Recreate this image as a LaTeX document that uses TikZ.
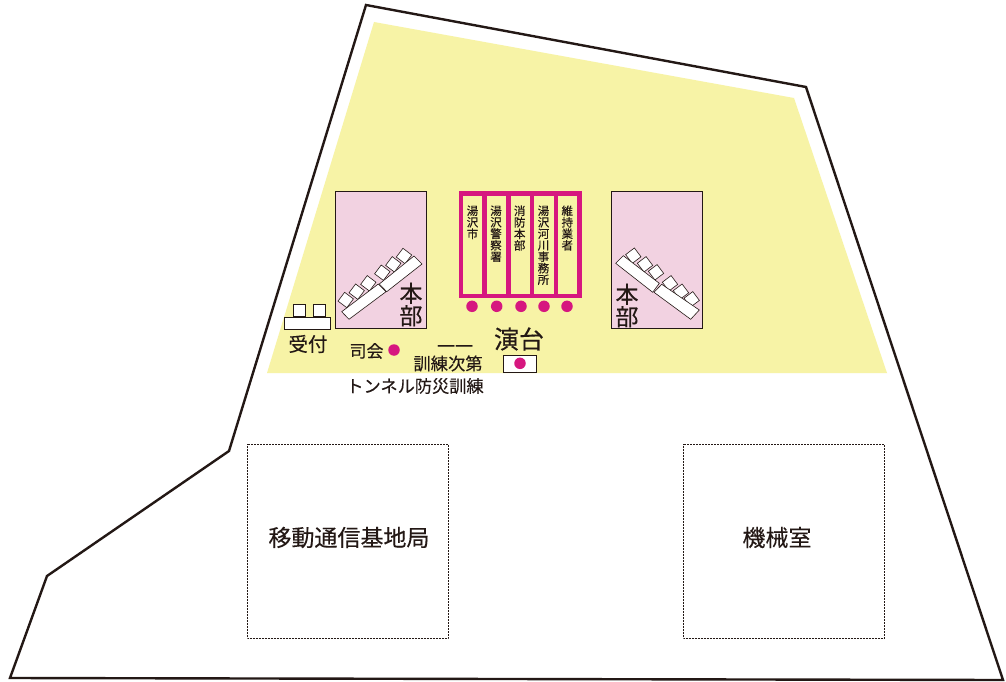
\documentclass[tikz,border=0pt]{standalone}
\usepackage{fontspec}
\setmainfont[FakeBold=0.25]{Noto Sans CJK JP}
\definecolor{yel}{HTML}{F7F3A6}
\definecolor{pnk}{HTML}{F2D2E1}
\definecolor{mag}{HTML}{D6177F}
\definecolor{ink}{HTML}{231815}
\newcommand{\fs}[1]{\fontsize{#1}{#1}\selectfont}
\tikzset{
  wall/.style={draw=ink,line width=2.4pt,line join=miter},
  zone/.style={draw=ink,fill=pnk,line width=0.8pt},
  furn/.style={draw=ink,fill=white,line width=0.6pt},
  seat/.style={furn,minimum size=11pt,inner sep=0,outer sep=0},
  room/.style={draw=ink,densely dotted,line width=0.5pt},
  agency/.style={draw=mag,line width=4.4pt},
  pin/.style={circle,fill=mag,minimum size=11.5pt,inner sep=0},
  lbl/.style={text=ink,inner sep=0,outer sep=0,align=center},
  col/.style={lbl,anchor=north,font=\fs{11.5},text width=14pt}
}
\begin{document}
\begin{tikzpicture}[x=1pt,y=-1pt]
\useasboundingbox (0,0) rectangle (1006,682);
\fill[white] (0,0) rectangle (1006,682);
% site
\fill[yel] (374,22) -- (794,98) -- (887,373) -- (267,373) -- cycle;
\draw[wall] (366,5) -- (806,87) -- (1003,680) -- (10,678) -- (47,576) -- (229,451) -- cycle;
% HQ zones
\draw[zone] (335,191.5) rectangle (426.5,328);
\draw[zone] (611,191.5) rectangle (702,328);
% left tables
\foreach \n/\x/\y in {a/345.7/300,b/356.7/291.7,c/368.3/283.3,d/382.3/272.7,e/393.3/264.3,f/404/256}
  \node[seat,rotate=-37] (l\n) at (\x,\y) {};
\draw[furn] (341.7,311.7) -- (378.3,284) -- (386,291.7) -- (349,319.3) -- cycle;
\draw[furn] (379.3,284) -- (414,256) -- (422,264) -- (386.7,291.7) -- cycle;
% right tables
\foreach \n/\x/\y in {a/633.3/255.7,b/645/264.3,c/656/272.3,d/670/283.3,e/681/291.7,f/691.7/299.3}
  \node[seat,rotate=37] (r\n) at (\x,\y) {};
\draw[furn] (615.7,263.3) -- (623.3,255.7) -- (659.3,283.3) -- (652.7,292.3) -- cycle;
\draw[furn] (654,292.3) -- (661.7,284.3) -- (699.3,310) -- (690.7,319.3) -- cycle;
\node[lbl,font=\fs{23},anchor=center] (hqL) at (411,304.5) {本\\[-0.5pt]部};
\node[lbl,font=\fs{23},anchor=center] (hqR) at (627,305.5) {本\\[-0.5pt]部};
% agencies
\draw[agency] (460.7,193.3) rectangle (579.3,296);
\foreach \x in {484.3,508.3,531.7,555.7}
  \draw[agency] (\x,193.3) -- (\x,296);
\node[col] (c1) at (472.5,205.5) {湯\\沢\\市};
\node[col] (c2) at (496,205.5) {湯\\沢\\警\\察\\署};
\node[col] (c3) at (519.7,205.5) {消\\防\\本\\部};
\node[col] (c4) at (543.5,205.5) {湯\\沢\\河\\川\\事\\務\\所};
\node[col] (c5) at (567.3,205.5) {維\\持\\業\\者};
\foreach \n/\x in {1/472,2/496.7,3/521,4/544,5/567}
  \node[pin] (p\n) at (\x,306.3) {};
% reception
\node[seat,minimum size=12pt] (s1) at (299.5,310.2) {};
\node[seat,minimum size=12pt] (s2) at (318.8,310.2) {};
\draw[furn] (284.7,317.3) rectangle (330.7,329);
\node[lbl,font=\fs{19.5}] (rec) at (308,344) {受付};
% MC
\node[lbl,font=\fs{17}] (mc) at (366.5,351) {司会};
\node[pin] (mcp) at (394,350) {};
% programme
\node[lbl,font=\fs{18}] (bars) at (455,349) {一一};
\node[lbl,font=\fs{17.3}] (prog) at (448,363.5) {訓練次第};
\node[lbl,font=\fs{17.2}] (title) at (415,386) {トンネル防災訓練};
% stage
\node[lbl,font=\fs{25}] (stage) at (519,339) {演台};
\draw[furn,line width=0.9pt] (503,355) rectangle (536,372);
\node[pin] (sp) at (520,363.3) {};
% rooms
\draw[room] (247,444) rectangle (448,638);
\draw[room] (683,444) rectangle (884,638);
\node[lbl,font=\fs{23}] (r1) at (349,537.5) {移動通信基地局};
\node[lbl,font=\fs{23}] (r2) at (777,537.5) {機械室};
\end{tikzpicture}
\end{document}
